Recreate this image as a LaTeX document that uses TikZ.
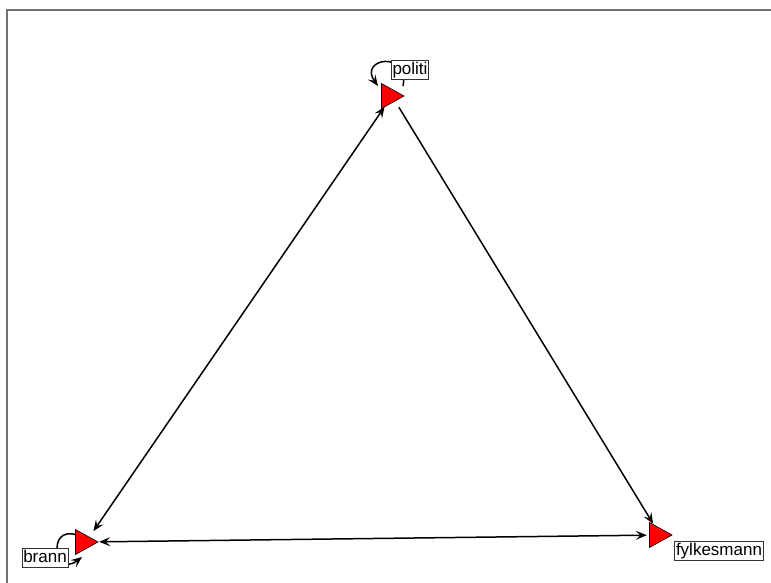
\documentclass[tikz,border=0pt]{standalone}
\usepackage{fontspec}
\setmainfont{Liberation Sans}
\usetikzlibrary{arrows.meta}
\tikzset{
  vert/.style={circle,minimum size=26pt,inner sep=0pt,draw=none},
  tri/.style={fill=red,draw=black,line width=0.6pt,line join=miter},
  lab/.style={draw=black!80,fill=white,line width=0.8pt,inner sep=1.2pt,font=\fontsize{17}{17}\selectfont,text height=12.5pt,text depth=3.5pt},
  edge/.style={line width=1.5pt,draw=black},
  tip/.style={-{Stealth[length=11pt,width=9pt,inset=4.5pt]}},
  tips/.style={{Stealth[length=11pt,width=9pt,inset=4.5pt]}-{Stealth[length=11pt,width=9pt,inset=4.5pt]}},
}
\begin{document}
\begin{tikzpicture}[x=1pt,y=-1pt]
\useasboundingbox (0,0) rectangle (771,583);
\fill[white] (0,0) rectangle (771,583);
\draw[black!55,line width=1.6pt] (7,583) -- (7,10) -- (771,10);

\node[vert] (politi) at (392,96) {};
\node[vert] (brann) at (86,542) {};
\node[vert] (fylkesmann) at (660,535) {};

% self loops (under labels)
\draw[edge,tip] (403,86) .. controls (410,50) and (358,58) .. (378,86);
\draw[edge,tip] (77,535) .. controls (46,525) and (55,578) .. (82,557);

% triangles
\foreach \n in {politi,brann,fylkesmann}{
  \filldraw[tri] ([xshift=-10.5pt,yshift=12.5pt]\n.center) -- ([xshift=12pt]\n.center) -- ([xshift=-10.5pt,yshift=-12.5pt]\n.center) -- cycle;
}

% edges
\draw[edge,tips] (brann) -- (politi);
\draw[edge,tip] (politi) -- (fylkesmann);
\draw[edge,tips] (brann) -- (fylkesmann);

% labels
\node[lab] (lpoliti) at (410,70) {politi};
\node[lab] (lbrann) at (45,558) {brann};
\node[lab] (lfylkesmann) at (719,551) {fylkesmann};
\end{tikzpicture}
\end{document}
